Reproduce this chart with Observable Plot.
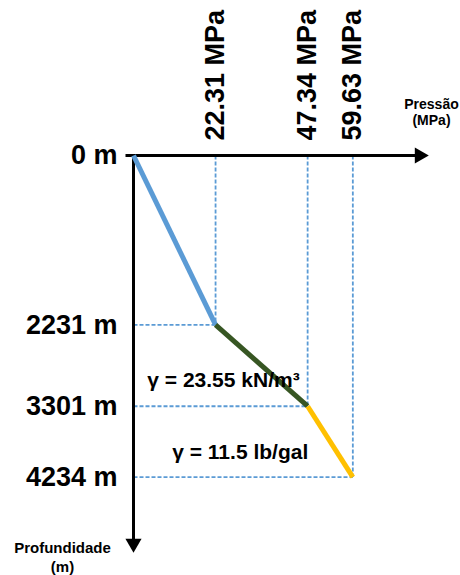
<!DOCTYPE html>
<html><head><meta charset="utf-8">
<script src="https://cdn.jsdelivr.net/npm/d3@7"></script>
<script src="https://cdn.jsdelivr.net/npm/@observablehq/plot@0.6"></script>
<style>body{margin:0;background:#fff}</style>
</head><body><div id="chart"></div>
<script>
// Data
const depths = [0, 2231, 3301, 4234];            // m
const pressures = [0, 22.31, 47.34, 59.63];      // MPa
const depthLabels = ["0 m", "2231 m", "3301 m", "4234 m"];
const pressureLabels = ["22.31 MPa", "47.34 MPa", "59.63 MPa"];
const segmentColors = ["#5B9BD5", "#375623", "#FFC000"];
const annotations = ["γ = 23.55 kN/m³", "γ = 11.5 lb/gal"];
const xTitle = "Pressão\n(MPa)";
const yTitle = "Profundidade\n(m)";

const xMax = 80.2, yMax = 5174;
const pts = depths.map((d, i) => ({depth: d, p: pressures[i]}));
const segs = [0, 1, 2].map(i => ({x1: pressures[i], y1: depths[i], x2: pressures[i+1], y2: depths[i+1], c: segmentColors[i]}));
const guides = pts.slice(1);
const font = "'Liberation Sans', Arial, sans-serif";

const chart = Plot.plot({
  width: 460, height: 575,
  marginLeft: 133, marginRight: 32, marginTop: 155, marginBottom: 27,
  x: {domain: [0, xMax], axis: null},
  y: {domain: [0, yMax], reverse: true, axis: null},
  style: {fontFamily: font, background: "white", overflow: "visible"},
  marks: [
    // dashed guides
    Plot.link(guides, {x1: "p", x2: "p", y1: 0, y2: "depth", stroke: "#5B9BD5", strokeWidth: 1.8, strokeDasharray: "4,2"}),
    Plot.link(guides, {x1: 0, x2: "p", y1: "depth", y2: "depth", stroke: "#5B9BD5", strokeWidth: 1.8, strokeDasharray: "4,2"}),
    // axes
    Plot.link([0], {x1: 0, y1: 0, x2: xMax, y2: 0, dx: -8, stroke: "black", strokeWidth: 3}),
    Plot.link([0], {x1: 0, y1: 0, x2: 0, y2: yMax, stroke: "black", strokeWidth: 3}),
    Plot.dot([0], {x: xMax, y: 0, symbol: "triangle", r: 6, rotate: 90, fill: "black", stroke: "none", dx: -9}),
    Plot.dot([0], {x: 0, y: yMax, symbol: "triangle", r: 6, rotate: 180, fill: "black", stroke: "none", dy: -5}),
    // pressure-depth profile
    Plot.link(segs, {x1: "x1", y1: "y1", x2: "x2", y2: "y2", stroke: "c", strokeWidth: 5, strokeLinecap: "butt"}),
    // top labels
    Plot.text(guides, {x: "p", y: 0, text: (d, i) => pressureLabels[i], rotate: -90, textAnchor: "start", dy: -15, fontSize: 27, fontWeight: "bold", fill: "black"}),
    // left labels
    Plot.text(pts, {x: 0, y: "depth", text: (d, i) => depthLabels[i], textAnchor: "end", dx: -16, fontSize: 27, fontWeight: "bold", fill: "black"}),
    // annotations
    Plot.text([annotations[0]], {x: pressures[2], y: depths[2], text: d => d, textAnchor: "end", dx: -8, dy: -26, fontSize: 21, fontWeight: "bold", fill: "black", letterSpacing: "-0.8px"}),
    Plot.text([annotations[1]], {x: (pressures[2] + pressures[3]) / 2, y: (depths[2] + depths[3]) / 2, text: d => d, textAnchor: "end", dx: -22, dy: 11, fontSize: 21, fontWeight: "bold", fill: "black", letterSpacing: "-0.8px"}),
    // axis titles
    Plot.text([xTitle], {x: xMax, y: 0, text: d => d, textAnchor: "middle", dx: 3, dy: -44, fontSize: 14, fontWeight: "bold", lineHeight: 1.15, fill: "black", letterSpacing: "-0.2px"}),
    Plot.text([yTitle], {x: 0, y: yMax, text: d => d, textAnchor: "middle", dx: -71, dy: 8, fontSize: 15, fontWeight: "bold", lineHeight: 1.25, fill: "black", letterSpacing: "-0.2px"})
  ]
});
document.getElementById("chart").appendChild(chart);
</script>
</body></html>
